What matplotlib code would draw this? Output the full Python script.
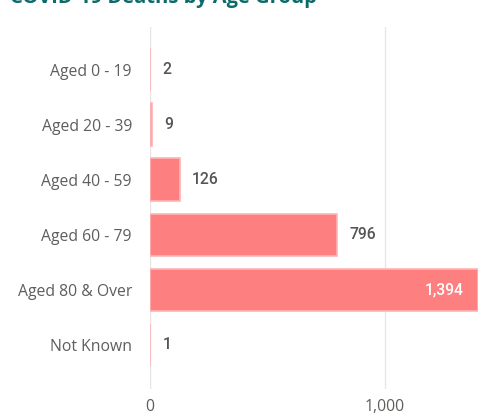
import matplotlib.pyplot as plt
from matplotlib.ticker import FuncFormatter

# Data
groups = ['Aged 0 - 19', 'Aged 20 - 39', 'Aged 40 - 59', 'Aged 60 - 79', 'Aged 80 & Over', 'Not Known']
deaths = [2, 9, 126, 796, 1394, 1]
ticks = [0, 1000]

bar_color = '#FD7F7F'
label_color = '#605E5C'

fig = plt.figure(figsize=(4.8, 4.18), dpi=100)
W, H = 480, 418
ax = fig.add_axes([150 / W, 1 - 389 / H, (478 - 150) / W, (389 - 27) / H])

ypos = list(range(len(groups)))
ax.barh(ypos, deaths, height=0.78, color=bar_color, edgecolor='#FDB5B5',
        linewidth=1.2, zorder=3)

ax.set_xlim(0, 1396)
ax.set_ylim(5.8, -0.78)
ax.set_yticks(ypos)
ax.set_yticklabels(groups, fontfamily='Open Sans', fontsize=11.3, color=label_color)
ax.set_xticks(ticks)
ax.xaxis.set_major_formatter(FuncFormatter(lambda v, p: f'{int(v):,}'))
for lbl in ax.get_xticklabels():
    lbl.set_fontfamily('Open Sans')
    lbl.set_fontsize(11.3)
    lbl.set_color(label_color)
ax.tick_params(axis='both', length=0)
ax.tick_params(axis='y', pad=13)
ax.tick_params(axis='x', pad=7)

ax.grid(axis='x', color='#E6E6E6', linewidth=1, zorder=0)
for s in ax.spines.values():
    s.set_visible(False)

# value labels
for y, v in zip(ypos, deaths):
    if v > 1200:
        ax.text(v - 60, y, f'{v:,}', ha='right', va='center', color='white',
                fontsize=11.3, fontfamily='Roboto', fontweight='medium', zorder=4)
    else:
        ax.text(v + 52, y, f'{v:,}', ha='left', va='center', color='#555555',
                fontsize=11.3, fontfamily='Roboto', fontweight='medium', zorder=4)

# title, mostly cut off at the top
fig.text(10 / W, 1 - 3 / H, 'COVID-19 Deaths by Age Group', ha='left', va='baseline',
         fontsize=14.5, fontweight='bold', fontfamily='Open Sans', color='#0B6A6A')

fig.savefig('out.png', dpi=100)
